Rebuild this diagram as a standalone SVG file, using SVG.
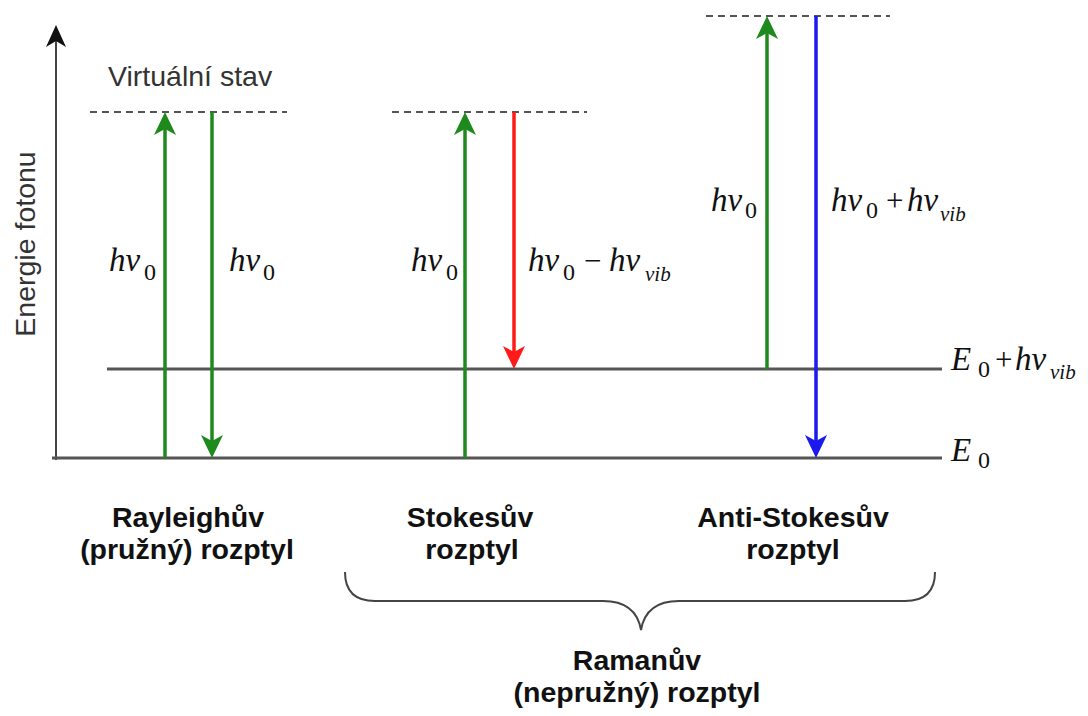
<svg xmlns="http://www.w3.org/2000/svg" width="1088" height="716" viewBox="0 0 1088 716">
<style>
.lvl{stroke:#555;stroke-width:3;fill:none}
.dash{stroke:#555;stroke-width:2;stroke-dasharray:7,5;fill:none}
.arr{stroke-width:3.5;fill:none}
.g{stroke:#1e8a1e}
.r{stroke:#ff1a1a}
.b{stroke:#1a1aee}
.m{font-family:"Liberation Serif","Times New Roman",serif;font-size:33px;font-style:italic;fill:#111}
.sub{font-style:normal;font-size:24px}
.vib{font-size:21px}
.op{font-style:normal;font-size:31px}
.lab{font-family:"Liberation Sans",Arial,sans-serif;font-size:28.5px;font-weight:bold;fill:#111;text-anchor:middle}
.reg{font-family:"Liberation Sans",Arial,sans-serif;font-size:28.5px;fill:#333}
</style>
<defs>
<marker id="hg" viewBox="-7 -12 25 24" refX="0" refY="0" markerWidth="25" markerHeight="24" markerUnits="userSpaceOnUse" orient="auto"><path d="M17,0 L-6,-11 L0,0 L-6,11 Z" fill="#1e8a1e"/></marker>
<marker id="hr" viewBox="-7 -12 25 24" refX="0" refY="0" markerWidth="25" markerHeight="24" markerUnits="userSpaceOnUse" orient="auto"><path d="M17,0 L-6,-11 L0,0 L-6,11 Z" fill="#ff1a1a"/></marker>
<marker id="hb" viewBox="-7 -12 25 24" refX="0" refY="0" markerWidth="25" markerHeight="24" markerUnits="userSpaceOnUse" orient="auto"><path d="M17,0 L-6,-11 L0,0 L-6,11 Z" fill="#1a1aee"/></marker>
<marker id="hk" viewBox="-7 -12 25 24" refX="0" refY="0" markerWidth="25" markerHeight="24" markerUnits="userSpaceOnUse" orient="auto"><path d="M16,0 L-6,-10 L0,0 L-6,10 Z" fill="#111"/></marker>
</defs>

<g id="axis">
<line x1="56" y1="460" x2="56" y2="41" stroke="#444" stroke-width="2" marker-end="url(#hk)"/>
<text class="reg" transform="translate(35,244) rotate(-90)" text-anchor="middle">Energie fotonu</text>
</g>

<g id="levels">
<line class="lvl" x1="52" y1="458" x2="942" y2="458"/>
<line class="lvl" x1="107" y1="369" x2="942" y2="369"/>
<line class="dash" x1="90" y1="112" x2="287" y2="112"/>
<line class="dash" x1="392" y1="112" x2="587" y2="112"/>
<line class="dash" x1="706" y1="16" x2="890" y2="16"/>
</g>

<g id="connectors">
<line class="arr g" x1="165" y1="458" x2="165" y2="129" marker-end="url(#hg)"/>
<line class="arr g" x1="212" y1="112" x2="212" y2="441" marker-end="url(#hg)"/>
<line class="arr g" x1="465" y1="458" x2="465" y2="129" marker-end="url(#hg)"/>
<line class="arr r" x1="514" y1="112" x2="514" y2="352" marker-end="url(#hr)"/>
<line class="arr g" x1="767" y1="369" x2="767" y2="33" marker-end="url(#hg)"/>
<line class="arr b" x1="816" y1="16" x2="816" y2="441" marker-end="url(#hb)"/>
</g>

<g id="virtual-label">
<text class="reg" x="108" y="86">Virtuální stav</text>
</g>

<g id="math-labels">
<text class="m" x="109" y="271">hν<tspan class="sub" x="144" y="280">0</tspan></text>
<text class="m" x="229" y="271">hν<tspan class="sub" x="263" y="280">0</tspan></text>
<text class="m" x="411" y="271">hν<tspan class="sub" x="446" y="280">0</tspan></text>
<text class="m" x="528" y="271">hν<tspan class="sub" x="563" y="280">0</tspan><tspan class="op" x="584" y="271">−</tspan><tspan x="609" y="271">hν</tspan><tspan class="vib" x="645" y="281">vib</tspan></text>
<text class="m" x="711" y="211">hν<tspan class="sub" x="745" y="218">0</tspan></text>
<text class="m" x="831" y="211">hν<tspan class="sub" x="866" y="218">0</tspan><tspan class="op" x="886" y="211">+</tspan><tspan x="907" y="211">hν</tspan><tspan class="vib" x="940" y="221">vib</tspan></text>
<text class="m" x="951" y="370">E<tspan class="sub" x="978" y="377">0</tspan><tspan class="op" x="995" y="370">+</tspan><tspan x="1015" y="370">hν</tspan><tspan class="vib" x="1050" y="379">vib</tspan></text>
<text class="m" x="951" y="461">E<tspan class="sub" x="978" y="468">0</tspan></text>
</g>

<g id="rayleigh">
<text class="lab" x="188" y="527">Rayleighův</text>
<text class="lab" x="187" y="559">(pružný) rozptyl</text>
</g>
<g id="stokes">
<text class="lab" x="470" y="527">Stokesův</text>
<text class="lab" x="472" y="559">rozptyl</text>
</g>
<g id="antistokes">
<text class="lab" x="793" y="527">Anti-Stokesův</text>
<text class="lab" x="793" y="559">rozptyl</text>
</g>
<g id="brace">
<path d="M345,572 Q345,601 375,601 L603,601 Q636,601 641,630 Q646,601 679,601 L905,601 Q935,601 935,572" fill="none" stroke="#444" stroke-width="2"/>
</g>
<g id="raman">
<text class="lab" x="637" y="670">Ramanův</text>
<text class="lab" x="637" y="702">(nepružný) rozptyl</text>
</g>
</svg>
